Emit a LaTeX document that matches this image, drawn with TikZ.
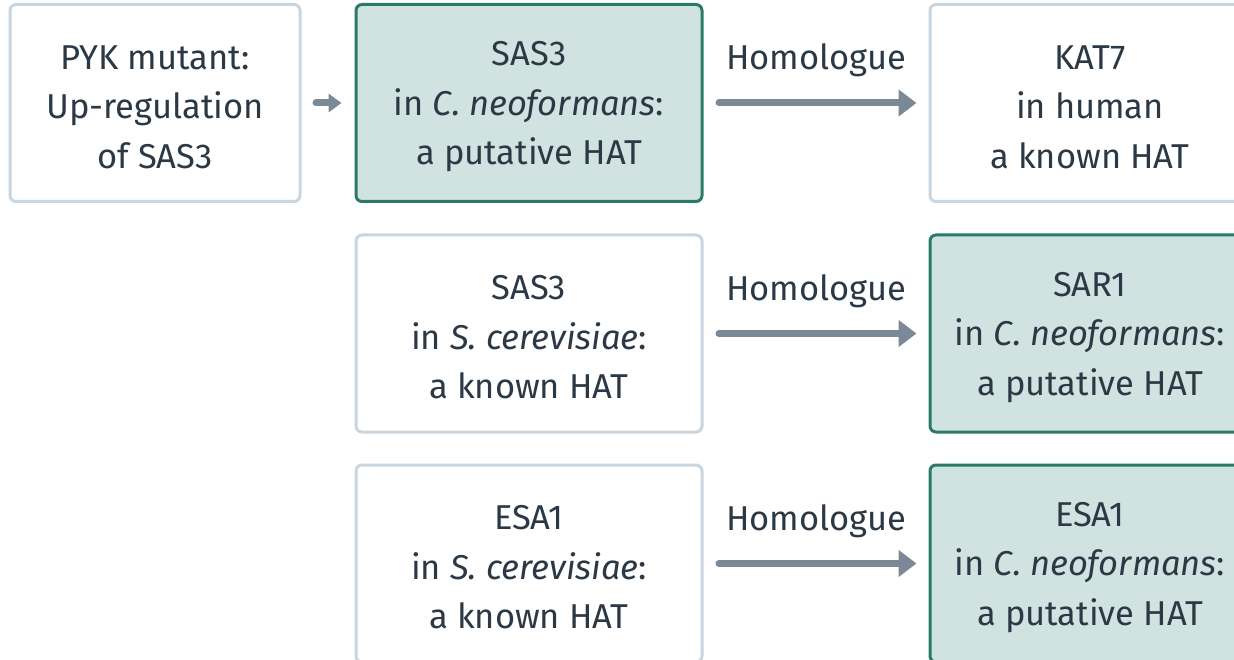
\documentclass[tikz,border=0pt]{standalone}
\usepackage{fontspec}
\setmainfont{Fira Sans}
\usetikzlibrary{arrows.meta}
\definecolor{txt}{HTML}{2B3845}
\definecolor{grayb}{HTML}{C9D5DF}
\definecolor{tealf}{HTML}{D1E3E0}
\definecolor{tealb}{HTML}{2A7A68}
\definecolor{arr}{HTML}{7B8896}
\newcommand\firststrut{\rule{0pt}{32pt}}
\begin{document}
\begin{tikzpicture}[x=1pt,y=-1pt,
  basebox/.style={line width=3pt, rounded corners=6pt, minimum height=197pt,
    align=center, text=txt, font=\fontsize{34.5}{49.5}\selectfont, inner sep=0pt},
  plainbox/.style={basebox, draw=grayb, fill=white},
  tealbox/.style={basebox, draw=tealb, fill=tealf},
  lbl/.style={text=txt, font=\fontsize{34.5}{40}\selectfont, inner sep=0pt},
  bigarrow/.style={draw=arr, line width=7pt, line cap=round,
    -{Triangle[length=18pt,width=26pt]}, shorten <=15.5pt, shorten >=12pt},
  smallarrow/.style={draw=arr, line width=7pt, line cap=round,
    -{Triangle[length=13pt,width=18pt]}, shorten <=14.5pt, shorten >=13pt}]
\useasboundingbox (0,0) rectangle (1234,660);
\clip (0,0) rectangle (1234,660);
% row 1
\node[plainbox, minimum width=290pt] (pyk) at (155,103) {\firststrut PYK mutant:\\Up-regulation\\of SAS3};
\node[tealbox, minimum width=346pt] (sas3cn) at (529,103) {\firststrut SAS3\\in \textit{C. neoformans}:\\a putative HAT};
\node[plainbox, minimum width=320pt] (kat7) at (1090,103) {\firststrut KAT7\\in human\\a known HAT};
% row 2
\node[plainbox, minimum width=346pt] (sas3sc) at (529,333.5) {\firststrut SAS3\\in \textit{S. cerevisiae}:\\a known HAT};
\node[tealbox, minimum width=320pt] (sar1) at (1090,333.5) {\firststrut SAR1\\in \textit{C. neoformans}:\\a putative HAT};
% row 3
\node[plainbox, minimum width=346pt] (esa1sc) at (529,563.5) {\firststrut ESA1\\in \textit{S. cerevisiae}:\\a known HAT};
\node[tealbox, minimum width=320pt] (esa1cn) at (1090,563.5) {\firststrut ESA1\\in \textit{C. neoformans}:\\a putative HAT};
% arrows
\draw[smallarrow] (pyk.east) -- (sas3cn.west);
\draw[bigarrow] (sas3cn.east) -- (kat7.west);
\draw[bigarrow] (sas3sc.east) -- (sar1.west);
\draw[bigarrow] (esa1sc.east) -- (esa1cn.west);
% labels
\node[lbl] (h1) at (816,60) {Homologue};
\node[lbl] (h2) at (816,291) {Homologue};
\node[lbl] (h3) at (816,521) {Homologue};
\end{tikzpicture}
\end{document}
